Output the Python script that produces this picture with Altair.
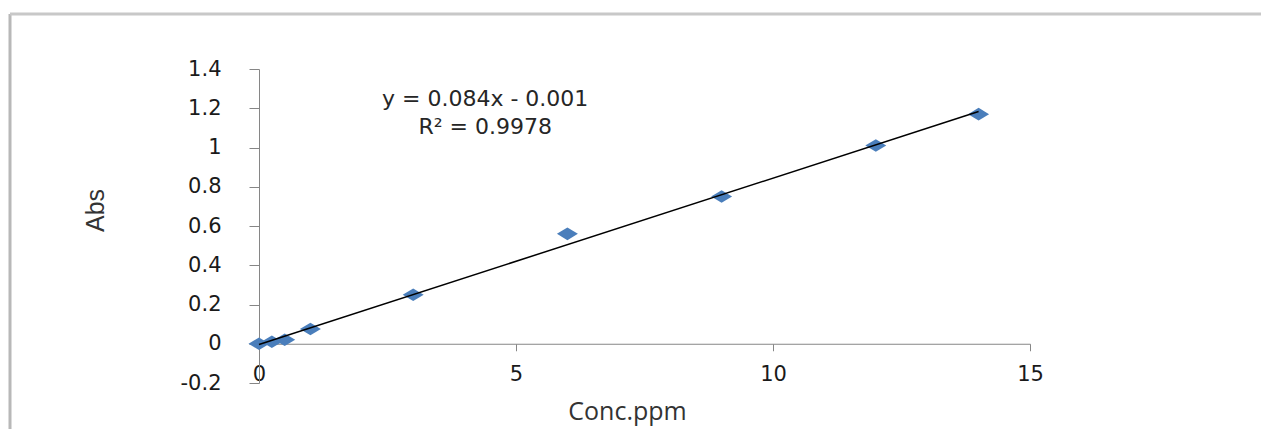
import altair as alt
import pandas as pd

# ---- data ----
conc = [0, 0.25, 0.5, 1, 3, 6, 9, 12, 14]
absorb = [0.0, 0.01, 0.02, 0.075, 0.25, 0.56, 0.75, 1.01, 1.17]
x_ticks = [0, 5, 10, 15]
y_ticks = [-0.2, 0, 0.2, 0.4, 0.6, 0.8, 1.0, 1.2, 1.4]
eq_text = ["y = 0.084x - 0.001", "R² = 0.9978"]
eq_conc = [4.4, 4.4]
eq_abs = [1.245, 1.105]

pts = pd.DataFrame({"conc": conc, "abs": absorb})
eq = pd.DataFrame({"conc": eq_conc, "abs": eq_abs, "label": eq_text})

W, H = 771, 314
AX = "#868686"

x_enc = alt.X(
    "conc:Q",
    scale=alt.Scale(domain=[0, 15], nice=False, zero=False),
    axis=alt.Axis(
        values=x_ticks, tickCount=len(x_ticks) + 10, title="Conc.ppm",
        offset=-39.25, grid=False,
        tickSize=7, labelPadding=13, labelFont="DejaVu Sans", labelFontSize=21,
        labelFlush=False, labelOverlap=False,
        labelColor="#1a1a1a", titleFont="Open Sans", titleFontSize=25,
        titleFontWeight="normal", titleColor="#333333", titleX=368, titleY=68,
        titleAlign="center", titleBaseline="middle", domainColor=AX, tickColor=AX,
    ),
)
y_enc = alt.Y(
    "abs:Q",
    scale=alt.Scale(domain=[-0.2, 1.4], nice=False, zero=False),
    axis=alt.Axis(
        values=y_ticks, tickCount=len(y_ticks) + 10, title="Abs",
        labelExpr="'' + datum.value", grid=False,
        tickSize=10, labelPadding=28, labelFont="DejaVu Sans", labelFontSize=21,
        labelFlush=False, labelOverlap=False,
        labelColor="#1a1a1a", titleFont="Liberation Sans", titleFontSize=25,
        titleFontWeight="normal", titleColor="#333333", titleX=-164, titleY=141,
        titleAngle=270, titleAlign="center", titleBaseline="middle",
        domainColor=AX, tickColor=AX,
    ),
)

points = alt.Chart(pts).mark_point(
    shape="M-1,0L0,-0.6L1,0L0,0.6Z", filled=True, size=440,
    color="#4a7ebb", opacity=1, strokeWidth=0,
).encode(x=x_enc, y=y_enc)

trend = alt.Chart(pts).transform_regression("conc", "abs").mark_line(
    color="#000000", strokeWidth=1.5
).encode(x="conc:Q", y="abs:Q")

text = alt.Chart(eq).mark_text(
    font="DejaVu Sans", fontSize=22, color="#262626", align="center", baseline="middle"
).encode(x="conc:Q", y="abs:Q", text="label:N")

frame_df = pd.DataFrame({"d": [0]})
frame_left = alt.Chart(frame_df).mark_rule(color="#b8b8b8", strokeWidth=3).encode(
    x=alt.value(-249), y=alt.value(-55), y2=alt.value(420)
)
frame_top = alt.Chart(frame_df).mark_rule(color="#c8c8c8", strokeWidth=3).encode(
    x=alt.value(-249), x2=alt.value(1010), y=alt.value(-55)
)

chart = alt.layer(points, trend, text, frame_left, frame_top).properties(
    width=W, height=H,
    autosize=alt.AutoSizeParams(type="none"),
    padding={"left": 259, "top": 69, "right": 231, "bottom": 46},
    background="white",
).configure_view(stroke=None)

chart.save("out.html", embed_options={"renderer": "svg", "actions": False})
